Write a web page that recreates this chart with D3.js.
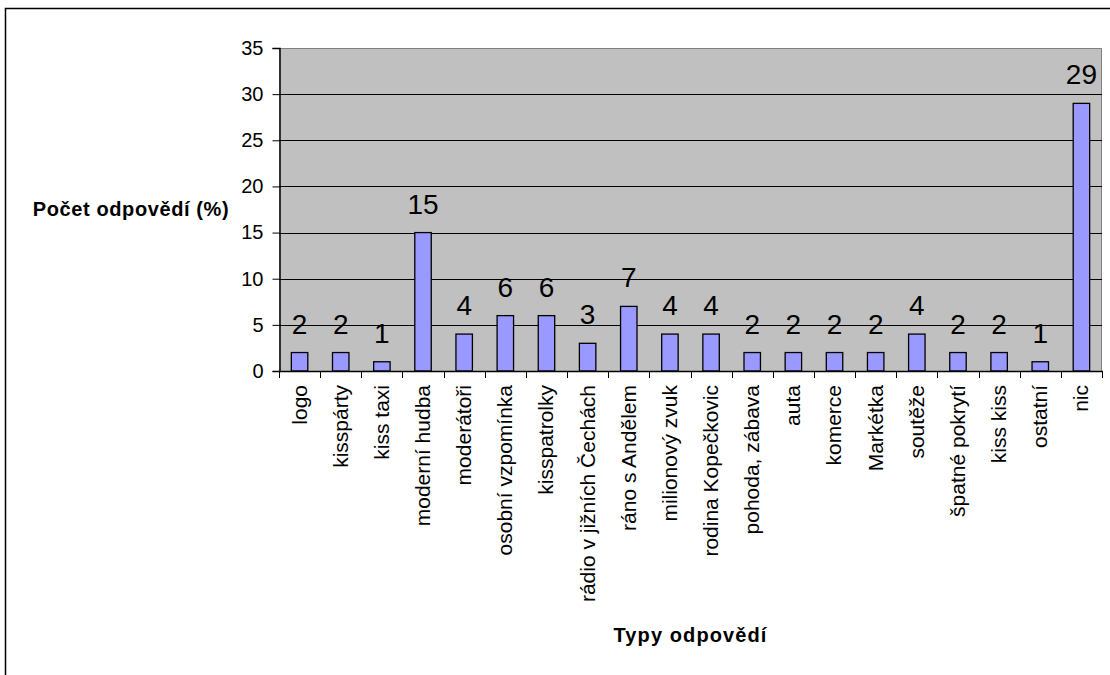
<!DOCTYPE html>
<html>
<head>
<meta charset="utf-8">
<script src="https://cdn.jsdelivr.net/npm/d3@7"></script>
<style>
  html, body { margin: 0; padding: 0; background: #fff; }
  svg { display: block; font-family: "Liberation Sans", Arial, sans-serif; }
</style>
</head>
<body>
<svg id="chart" width="1110" height="675"></svg>
<script>
// Response categories and their share of answers (%)
const categories = [
  "logo", "kisspárty", "kiss taxi", "moderní hudba", "moderátoři",
  "osobní vzpomínka", "kisspatrolky", "rádio v jižních Čechách", "ráno s Andělem",
  "milionový zvuk", "rodina Kopečkovic", "pohoda, zábava", "auta", "komerce",
  "Markétka", "soutěže", "špatné pokrytí", "kiss kiss", "ostatní", "nic"
];
const values = [2, 2, 1, 15, 4, 6, 6, 3, 7, 4, 4, 2, 2, 2, 2, 4, 2, 2, 1, 29];
const yTicks = [0, 5, 10, 15, 20, 25, 30, 35];
const yTitle = "Počet odpovědí (%)";
const xTitle = "Typy odpovědí";

const svg = d3.select("#chart");
const plot = { left: 279, right: 1102, top: 48, bottom: 371 };

// Outer chart frame
svg.append("rect")
  .attr("x", 5.5).attr("y", 8.5)
  .attr("width", 1200).attr("height", 800)
  .attr("fill", "none").attr("stroke", "#000").attr("stroke-width", 1.5);

const x = d3.scaleBand()
  .domain(categories)
  .range([plot.left, plot.right])
  .paddingInner(0).paddingOuter(0);

const y = d3.scaleLinear()
  .domain([0, 35])
  .range([plot.bottom, plot.top]);

// Plot background
svg.append("rect")
  .attr("x", plot.left).attr("y", plot.top)
  .attr("width", plot.right - plot.left).attr("height", plot.bottom - plot.top)
  .attr("fill", "#C0C0C0");

// Plot border (top and right)
svg.append("path")
  .attr("d", `M${plot.left},${plot.top + 0.5}H${plot.right - 0.5}V${plot.bottom}`)
  .attr("fill", "none").attr("stroke", "#808080").attr("stroke-width", 1);

// Horizontal gridlines
svg.append("g")
  .selectAll("line")
  .data(yTicks.filter(t => t > 0 && t < 35))
  .join("line")
  .attr("x1", plot.left).attr("x2", plot.right)
  .attr("y1", d => Math.round(y(d)) + 0.5).attr("y2", d => Math.round(y(d)) + 0.5)
  .attr("stroke", "#000").attr("stroke-width", 1);

// Bars
const barW = x.bandwidth() / 2.5;
svg.append("g")
  .selectAll("rect")
  .data(values)
  .join("rect")
  .attr("x", (d, i) => x(categories[i]) + (x.bandwidth() - barW) / 2)
  .attr("y", d => y(d))
  .attr("width", barW)
  .attr("height", d => y(0) - y(d))
  .attr("fill", "#9999FF")
  .attr("stroke", "#000")
  .attr("stroke-width", 1.3);

// Value labels
svg.append("g")
  .selectAll("text")
  .data(values)
  .join("text")
  .attr("x", (d, i) => x(categories[i]) + x.bandwidth() / 2)
  .attr("y", d => y(d) - 19)
  .attr("text-anchor", "middle")
  .attr("font-size", 28)
  .attr("fill", "#000")
  .text(d => d);

// Y axis
const yAxis = d3.axisLeft(y).tickValues(yTicks).tickSize(7).tickPadding(9);
const gy = svg.append("g")
  .attr("transform", `translate(${plot.left + 0.5},0)`)
  .call(yAxis);
gy.select(".domain").attr("stroke", "#000").attr("stroke-width", 1.5);
gy.selectAll(".tick line").attr("stroke", "#000");
gy.selectAll(".tick text")
  .attr("font-size", 20)
  .attr("font-family", "Liberation Sans, Arial, sans-serif")
  .attr("fill", "#000");

// X axis: ticks on category boundaries
const gx = svg.append("g");
gx.append("line")
  .attr("x1", plot.left).attr("x2", plot.right + 1)
  .attr("y1", plot.bottom + 0.5).attr("y2", plot.bottom + 0.5)
  .attr("stroke", "#000").attr("stroke-width", 1.5);
const bounds = categories.map(c => x(c)).concat([plot.right]);
gx.selectAll("line.tick")
  .data(bounds)
  .join("line")
  .attr("class", "tick")
  .attr("x1", d => Math.round(d) + 0.5).attr("x2", d => Math.round(d) + 0.5)
  .attr("y1", plot.bottom).attr("y2", plot.bottom + 7)
  .attr("stroke", "#000");

// Category labels, rotated to read upward
gx.selectAll("text")
  .data(categories)
  .join("text")
  .attr("transform", d => `translate(${x(d) + x.bandwidth() / 2},385) rotate(-90)`)
  .attr("text-anchor", "end")
  .attr("dy", "0.33em")
  .attr("font-size", 21)
  .attr("fill", "#000")
  .text(d => d);

// Axis titles
svg.append("text")
  .attr("x", 131).attr("y", 216)
  .attr("text-anchor", "middle")
  .attr("font-size", 20)
  .attr("letter-spacing", 0.6)
  .attr("font-weight", "bold")
  .text(yTitle);

svg.append("text")
  .attr("x", (plot.left + plot.right) / 2).attr("y", 642)
  .attr("text-anchor", "middle")
  .attr("font-size", 20)
  .attr("letter-spacing", 1.1)
  .attr("font-weight", "bold")
  .text(xTitle);
</script>
</body>
</html>
